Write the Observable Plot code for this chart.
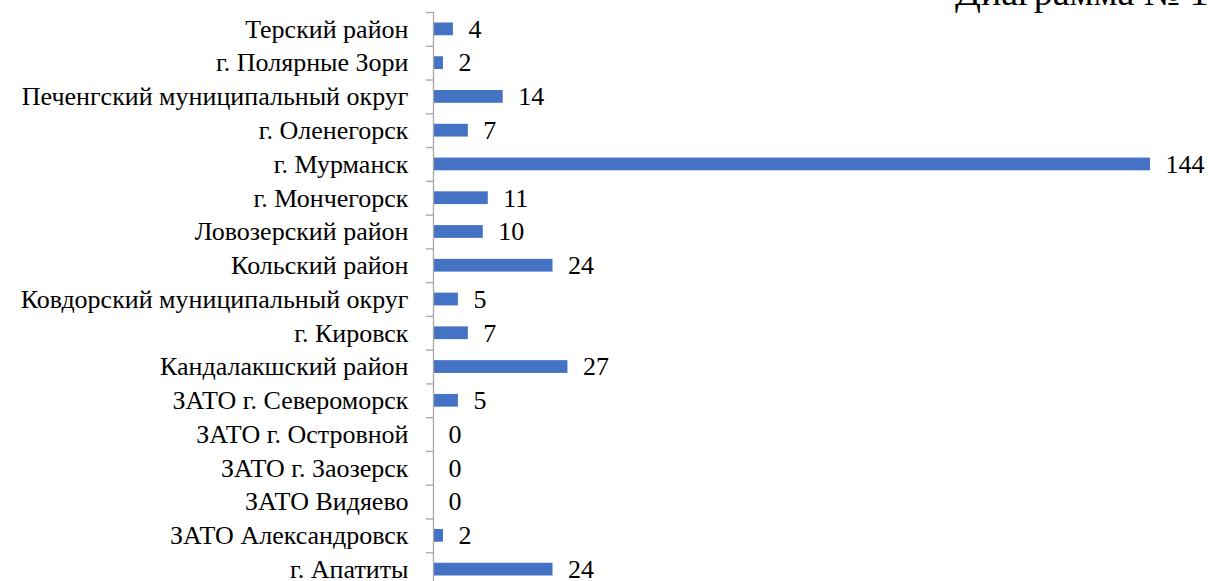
<!DOCTYPE html>
<html>
<head>
<meta charset="utf-8">
<script src="https://cdn.jsdelivr.net/npm/d3@7"></script>
<script src="https://cdn.jsdelivr.net/npm/@observablehq/plot@0.6"></script>
<style>
  html, body { margin: 0; padding: 0; background: #fff; overflow: hidden; width: 1208px; height: 581px; }
  #wrap { position: relative; width: 1208px; height: 581px; overflow: hidden; }
  #title { position: absolute; left: 955px; top: -30px; font-family: "Liberation Serif", serif; font-size: 38px; white-space: nowrap; color: #000; }
  svg text { font-family: "Liberation Serif", serif !important; }
</style>
</head>
<body>
<div id="wrap">
  <div id="chart"></div>
  <div id="title">Диаграмма № 1.</div>
</div>
<script>
const categories = [
  "Терский район",
  "г. Полярные Зори",
  "Печенгский муниципальный округ",
  "г. Оленегорск",
  "г. Мурманск",
  "г. Мончегорск",
  "Ловозерский район",
  "Кольский район",
  "Ковдорский муниципальный округ",
  "г. Кировск",
  "Кандалакшский район",
  "ЗАТО г. Североморск",
  "ЗАТО г. Островной",
  "ЗАТО г. Заозерск",
  "ЗАТО Видяево",
  "ЗАТО Александровск",
  "г. Апатиты"
];
const values = [4, 2, 14, 7, 144, 11, 10, 24, 5, 7, 27, 5, 0, 0, 0, 2, 24];

const data = categories.map((c, i) => ({cat: c, value: values[i]}));
const font = "Liberation Serif";
const step = (586 - 12) / categories.length;

const chart = Plot.plot({
  width: 1208,
  height: 581,
  marginLeft: 433,
  marginRight: 58,
  marginTop: 12,
  marginBottom: 0,
  style: {background: "#fff", color: "#000"},
  x: {domain: [0, 144], axis: null},
  y: {domain: categories, range: [12, 586], padding: 0, round: false, axis: null, label: null},
  marks: [
    Plot.barX(data, {x: "value", y: "cat", fill: "#4472C4", insetTop: 10.5, insetBottom: 10.5}),
    Plot.ruleX([0], {stroke: "#A6A6A6", strokeWidth: 1.3}),
    Plot.axisY({tickSize: 7, stroke: "#A6A6A6", strokeWidth: 1.3, tickFormat: () => "", dy: -step / 2, anchor: "left", label: null}),
    Plot.axisY({tickSize: 0, tickPadding: 25, fontSize: 26, fontFamily: font, fill: "#000", anchor: "left", label: null}),
    Plot.text(data, {x: "value", y: "cat", text: d => String(d.value), dx: 15, textAnchor: "start", fontSize: 26, fill: "#000", fontFamily: font})
  ]
});
document.getElementById("chart").appendChild(chart);
</script>
</body>
</html>
